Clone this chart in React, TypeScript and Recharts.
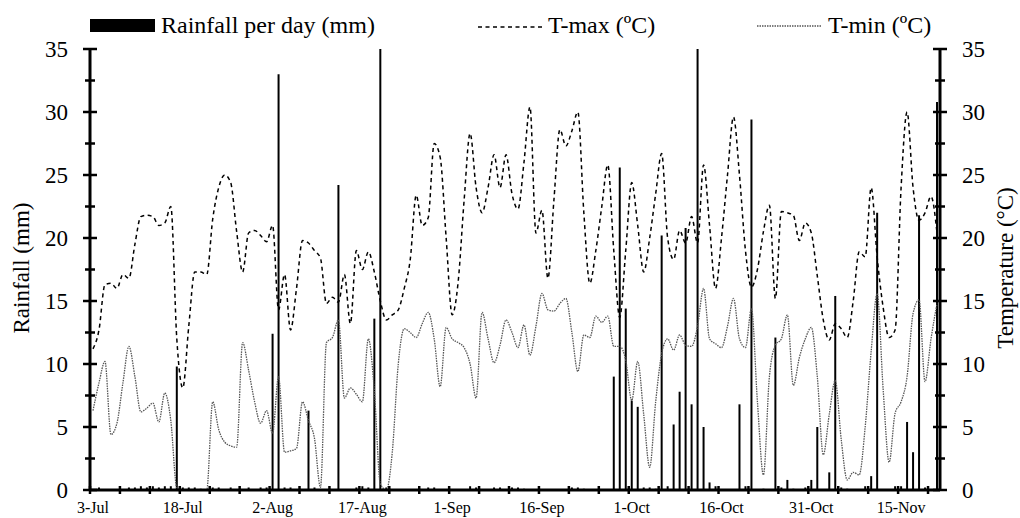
import { Bar, ComposedChart, Line, XAxis, YAxis } from "recharts"

const FONT = "'Liberation Serif', 'Times New Roman', serif"

// one label every 15 days, starting 3-Jul (day 0)
const DATE_LABELS = [
  "3-Jul", "18-Jul", "2-Aug", "17-Aug", "1-Sep",
  "16-Sep", "1-Oct", "16-Oct", "31-Oct", "15-Nov",
]

// daily rainfall (mm), 3-Jul .. 21-Nov
const RAIN = [
  0, 0.2, 0, 0, 0, 0, 0.2, 0.2, 0.3, 0.2,
  0.3, 0.2, 0.3, 0.3, 9.8, 0.2, 0.2, 0.2, 0.1, 0,
  0.2, 0.2, 0, 0.2, 0, 0, 0.2, 0, 0.2, 0.2,
  12.4, 33, 0.2, 0.2, 0, 0, 6.3, 0.2, 0, 0,
  0, 24.2, 0, 0, 0.2, 0.3, 0.2, 13.6, 35, 0.2,
  0, 0, 0, 0, 0, 0, 0.2, 0.2, 0, 0,
  0, 0, 0, 0.3, 0.2, 0, 0, 0.2, 0.2, 0,
  0.2, 0.2, 0.1, 0, 0, 0, 0, 0, 0, 0,
  0.2, 0.2, 0.1, 0, 0, 0, 0, 9.0, 25.6, 14.4,
  7.1, 6.6, 0.2, 0.2, 0.1, 20.2, 0.3, 5.2, 7.8, 20.8,
  6.8, 35, 5.0, 0.6, 0.3, 0, 0, 0, 6.8, 0.3,
  29.4, 0, 0.1, 0, 12.1, 0.2, 0.8, 0.1, 0, 0.2,
  0.8, 5.0, 0, 1.4, 15.4, 0.2, 0.1, 0, 0, 0.3,
  1.1, 22.0, 0, 0, 0.3, 0.3, 5.4, 3.0, 21.8, 0.2,
  0, 30.8,
]

const TMAX = [
  11.2, 12.7, 16.3, 16.4, 16.0, 17.1, 16.8, 19.5, 21.7, 21.8,
  21.7, 21.0, 21.2, 22.5, 12.0, 8.1, 13.0, 17.3, 17.3, 17.1,
  21.5, 24.0, 25.0, 24.4, 20.5, 17.3, 20.4, 20.6, 20.2, 19.7,
  21.0, 14.3, 17.1, 12.7, 16.0, 19.8, 19.6, 19.0, 18.4, 14.8,
  15.3, 14.9, 17.1, 13.2, 19.0, 17.5, 18.9, 17.3, 15.0, 13.5,
  13.9, 14.3, 16.0, 18.3, 23.4, 21.0, 21.6, 27.5, 26.4, 20.0,
  13.9, 16.5, 23.0, 28.3, 24.0, 22.0, 24.0, 26.6, 24.0, 26.6,
  23.5, 22.3, 26.0, 30.4, 20.4, 22.2, 16.8, 23.0, 28.6, 27.3,
  28.5, 30.0, 22.0, 16.4, 19.0, 22.5, 25.8, 19.0, 13.7, 19.0,
  24.4, 21.0, 17.3, 20.0, 23.5, 26.7, 20.0, 18.3, 20.6, 19.6,
  21.7, 19.6, 25.8, 21.0, 16.0, 20.0, 25.0, 29.6, 25.0, 19.0,
  16.1, 17.5, 20.5, 22.6, 15.2, 22.1, 22.0, 21.8, 19.8, 21.2,
  20.4, 17.0, 13.5, 11.9, 13.2, 12.8, 12.1, 15.0, 18.9, 18.5,
  24.0, 18.5, 14.5, 12.1, 12.7, 24.0, 30.0, 24.0, 21.4, 22.0,
  23.3, 20.4,
]

const TMIN = [
  6.3, 8.5, 10.2, 4.4, 5.3, 8.5, 11.4, 9.0, 6.2, 6.5,
  6.9, 5.4, 7.7, 5.5, 0.2, 0, 0, 0, 0, 0,
  7.0, 4.8, 3.8, 3.5, 3.4, 11.7, 9.5, 7.0, 5.3, 6.3,
  4.5, 9.0, 3.0, 3.1, 3.3, 7.0, 5.5, 4.1, 0.2, 11.7,
  12.1, 13.5, 7.3, 8.1, 7.6, 7.0, 12.0, 7.9, 0.5, 0,
  3.0, 10.0, 12.8, 12.5, 12.1, 13.2, 14.1, 12.0, 8.2, 12.9,
  12.0, 11.7, 11.3, 10.0, 7.3, 14.1, 12.0, 10.1, 11.5, 13.5,
  12.5, 11.3, 13.1, 10.7, 13.0, 15.6, 14.3, 14.2, 14.8, 15.2,
  12.5, 9.4, 12.3, 12.1, 13.8, 13.3, 13.8, 11.4, 11.4, 10.3,
  7.1, 10.2, 6.0, 1.8, 7.0, 10.8, 12.0, 11.1, 12.3, 11.5,
  11.4, 13.0, 16.0, 12.0, 11.6, 11.3, 13.0, 15.2, 12.0, 11.3,
  14.4, 7.0, 1.2, 9.0, 11.5, 12.0, 13.9, 8.3, 10.5, 12.0,
  12.9, 9.0, 2.8, 6.0, 8.7, 4.0, 0.8, 1.4, 1.2, 5.0,
  11.0, 15.6, 8.0, 2.2, 6.1, 7.0, 9.0, 14.0, 15.1, 8.6,
  12.0, 14.8,
]

const Y_TICKS = [0, 2.5, 5, 7.5, 10, 12.5, 15, 17.5, 20, 22.5, 25, 27.5, 30, 32.5, 35]
// tick marks sit between days, every 5 days
const X_TICKS = Array.from({ length: 29 }, (_, i) => i * 5 - 0.5)

const data = RAIN.map((rain, day) => ({
  day,
  rain,
  tmax: TMAX[day],
  tmin: TMIN[day],
}))

function DayTick({ x, y, payload }: any) {
  const day = payload.value + 0.5
  const label = day % 15 === 0 ? DATE_LABELS[day / 15] : null
  return (
    <g>
      <line x1={x} x2={x} y1={y - 4} y2={y + 4} stroke="#000" strokeWidth={2.5} />
      {label && (
        <text x={x + 3} y={y + 23} textAnchor="middle" fontSize={16} fontFamily={FONT} fill="#000">
          {label}
        </text>
      )}
    </g>
  )
}

function ValueTick({ x, y, payload, side }: any) {
  const major = payload.value % 5 === 0
  const len = major ? 7 : 5
  return (
    <g>
      <line x1={x - len} x2={x + len} y1={y} y2={y} stroke="#000" strokeWidth={2.5} />
      {major && (
        <text
          x={side === "left" ? x - 22 : x + 22}
          y={y}
          dy="0.35em"
          textAnchor={side === "left" ? "end" : "start"}
          fontSize={23}
          fontFamily={FONT}
          fill="#000"
        >
          {payload.value}
        </text>
      )}
    </g>
  )
}

function Overlay() {
  return (
    <svg
      width={1020}
      height={518}
      style={{ position: "absolute", left: 0, top: 0, pointerEvents: "none" }}
      fontFamily={FONT}
    >
      <rect x={90} y={19} width={65} height={13} fill="#000" />
      <text x={161} y={33} fontSize={24}>Rainfall per day (mm)</text>
      <line x1={478} x2={542} y1={27} y2={27} stroke="#000" strokeWidth={1.5} strokeDasharray="4 3.5" />
      <text x={548} y={33} fontSize={24}>T-max (ºC)</text>
      <line x1={757} x2={822} y1={26} y2={26} stroke="#555" strokeWidth={1.3} strokeDasharray="1.5 1" />
      <text x={828} y={33} fontSize={24}>T-min (ºC)</text>
      <text x={0} y={0} fontSize={23} textAnchor="middle" transform="translate(29 268) rotate(-90)">
        Rainfall (mm)
      </text>
      <text x={0} y={0} fontSize={23} textAnchor="middle" transform="translate(1013 268) rotate(-90)">
        Temperature (°C)
      </text>
    </svg>
  )
}

export default function App() {
  return (
    <div style={{ position: "absolute", left: 0, top: 0, width: 1020, height: 518, background: "#fff" }}>
      <ComposedChart
        width={1020}
        height={518}
        data={data}
        margin={{ top: 49, right: 0, bottom: 0, left: 0 }}
      >
        <XAxis
          dataKey="day"
          type="number"
          domain={[-0.5, 141.5]}
          ticks={X_TICKS}
          interval={0}
          height={28}
          tickSize={0}
          tickMargin={0}
          tickLine={false}
          axisLine={{ stroke: "#000", strokeWidth: 3 }}
          tick={<DayTick />}
        />
        <YAxis
          yAxisId="rain"
          orientation="left"
          width={90}
          domain={[0, 35]}
          ticks={Y_TICKS}
          interval={0}
          allowDataOverflow
          tickSize={0}
          tickMargin={0}
          tickLine={false}
          axisLine={{ stroke: "#000", strokeWidth: 3 }}
          tick={<ValueTick side="left" />}
        />
        <YAxis
          yAxisId="temp"
          orientation="right"
          width={80}
          domain={[0, 35]}
          ticks={Y_TICKS}
          interval={0}
          allowDataOverflow
          tickSize={0}
          tickMargin={0}
          tickLine={false}
          axisLine={{ stroke: "#000", strokeWidth: 3 }}
          tick={<ValueTick side="right" />}
        />
        <Line
          yAxisId="temp"
          dataKey="tmax"
          type="monotone"
          stroke="#000"
          strokeWidth={1.5}
          strokeDasharray="4 3.5"
          dot={false}
          isAnimationActive={false}
        />
        <Line
          yAxisId="temp"
          dataKey="tmin"
          type="monotone"
          stroke="#555"
          strokeWidth={1.3}
          strokeDasharray="1.5 1"
          dot={false}
          isAnimationActive={false}
        />
        <Bar yAxisId="rain" dataKey="rain" fill="#000" barSize={2} isAnimationActive={false} />
      </ComposedChart>
      <Overlay />
    </div>
  )
}
